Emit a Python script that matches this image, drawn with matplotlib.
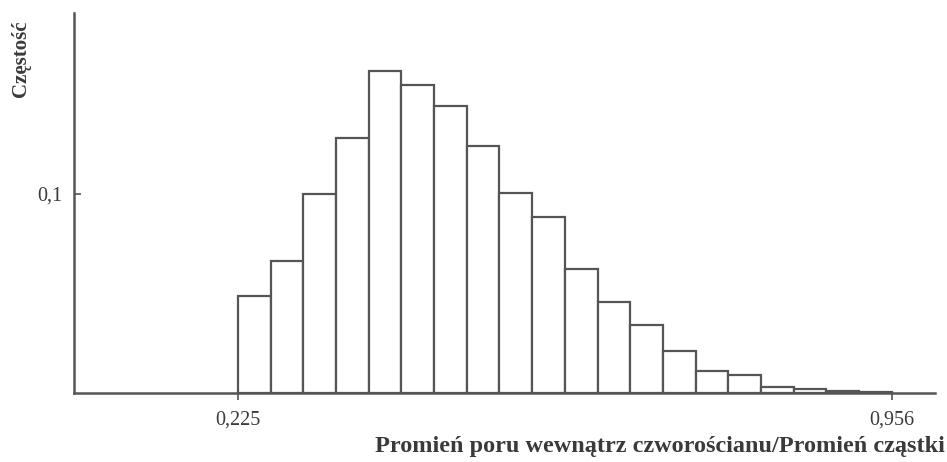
import numpy as np
import matplotlib.pyplot as plt

# histogram data
bin_start = 0.225
bin_end = 0.956
frequencies = [0.0487, 0.0663, 0.100, 0.128, 0.162, 0.155, 0.144, 0.124, 0.1005, 0.0884,
               0.0623, 0.0457, 0.0342, 0.0211, 0.0111, 0.0090, 0.0030, 0.0020, 0.0008, 0.0003]
x_ticks = [0.225, 0.956]
x_tick_labels = ["0,225", "0,956"]
y_ticks = [0.1]
y_tick_labels = ["0,1"]

plt.rcParams['font.family'] = ['Liberation Serif', 'DejaVu Serif']
LINE_COLOR = "#555555"
TEXT_COLOR = "#3a3a3a"

fig = plt.figure(figsize=(9.47, 4.62), dpi=100)
ax = fig.add_axes([0.0781, 0.1494, 0.909, 0.8225])

edges = np.linspace(bin_start, bin_end, len(frequencies) + 1)
widths = np.diff(edges)
ax.bar(edges[:-1], frequencies, width=widths, align='edge', color='white',
       edgecolor=LINE_COLOR, linewidth=1.6)

ax.set_xlim(0.0417, 1.004)
ax.set_ylim(0, 0.191)

for side in ['top', 'right']:
    ax.spines[side].set_visible(False)
for side in ['left', 'bottom']:
    ax.spines[side].set_color(LINE_COLOR)
    ax.spines[side].set_linewidth(1.8)

ax.set_xticks(x_ticks)
ax.set_xticklabels(x_tick_labels)
ax.set_yticks(y_ticks)
ax.set_yticklabels(y_tick_labels)
ax.tick_params(axis='x', direction='out', length=5, width=1.2, color=LINE_COLOR,
               labelsize=14.5, labelcolor=TEXT_COLOR, pad=8)
ax.tick_params(axis='y', direction='in', length=5, width=1.2, color=LINE_COLOR,
               labelsize=14.5, labelcolor=TEXT_COLOR, pad=8)

fig.text(0.998, 0.033, "Promień poru wewnątrz czworościanu/Promień cząstki",
         ha='right', va='center', fontsize=17.5, fontweight='bold', color=TEXT_COLOR)
fig.text(0.022, 0.79, "Częstość", rotation=90, ha='center', va='bottom',
         fontsize=15, fontweight='bold', color=TEXT_COLOR)

fig.savefig("out.png", dpi=100)
